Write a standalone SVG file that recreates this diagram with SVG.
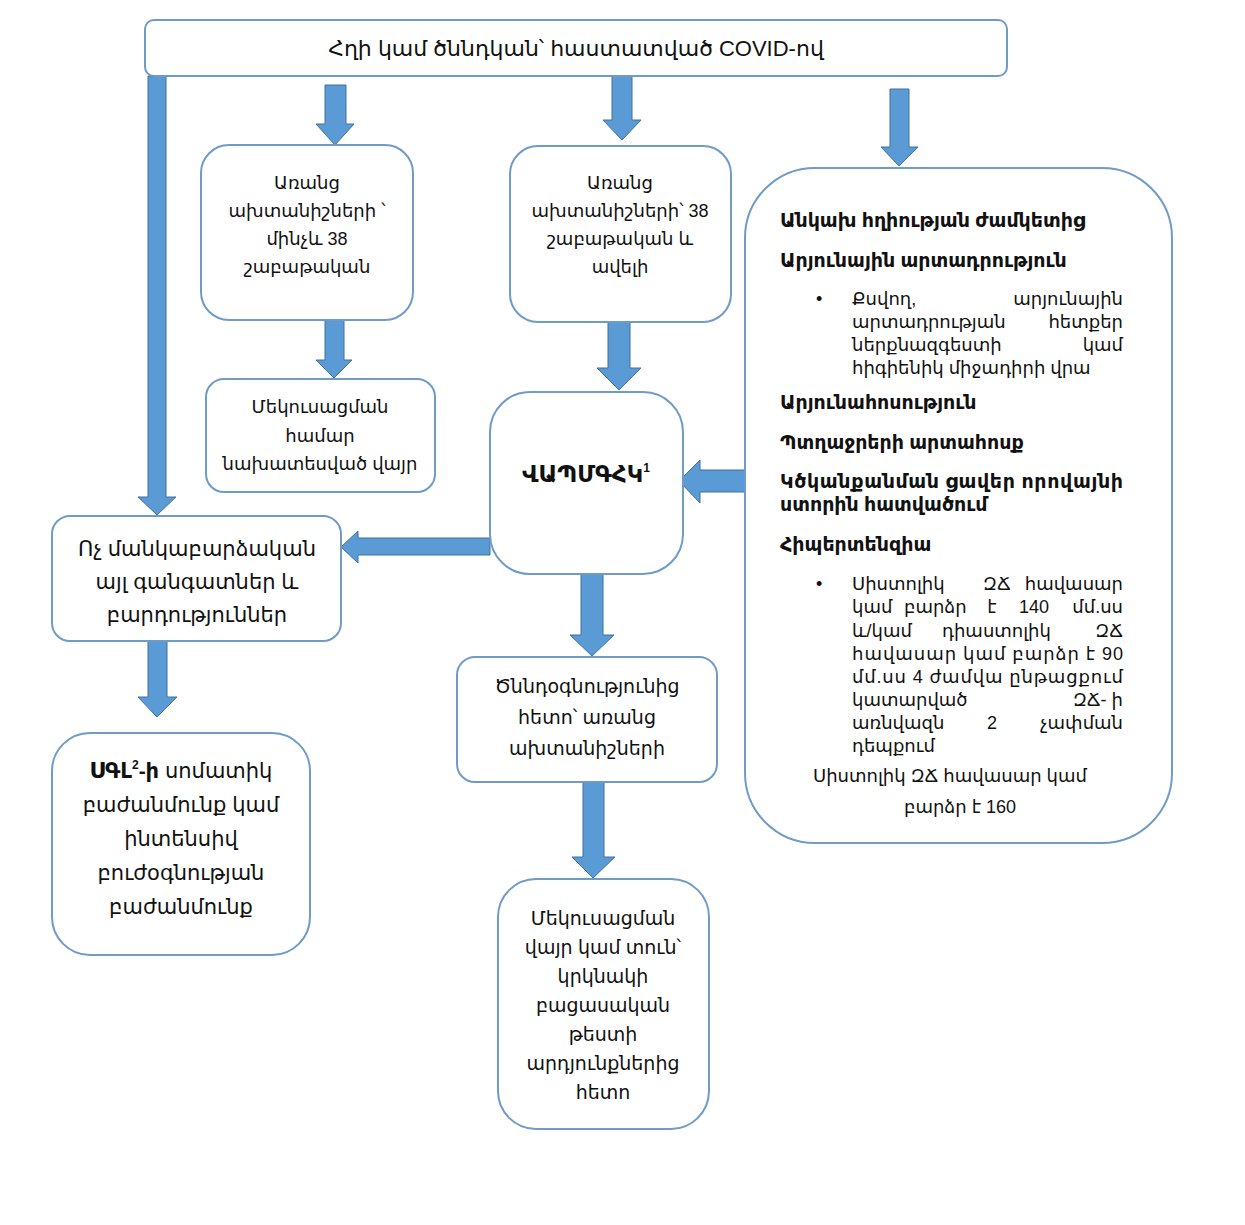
<svg xmlns="http://www.w3.org/2000/svg" width="1245" height="1225" viewBox="0 0 1245 1225">
<style>
.box{fill:#ffffff;stroke:#6f9bc8;stroke-width:2}
.arr{fill:#5b9bd5;stroke:#41719c;stroke-width:1}
text{font-family:"Liberation Sans","DejaVu Sans",sans-serif;fill:#111111}
.c{text-anchor:middle}
.t18{font-size:18px}
.t19{font-size:19px}
.t21{font-size:21px}
.b{font-weight:bold}
.r{font-size:18px}
.e{text-anchor:end}
</style>
<rect width="1245" height="1225" fill="#ffffff"/>
<g id="connectors">
<polygon class="arr" points="148,76 166,76 166,497 176,497 157,515 138,497 148,497"/>
<polygon class="arr" points="325,85 346,85 346,124 354,124 335,145 316,124 325,124"/>
<polygon class="arr" points="612,76 632,76 632,120 641,120 622,140 603,120 612,120"/>
<polygon class="arr" points="890,89 909,89 909,147 918,147 899,166 881,147 890,147"/>
<polygon class="arr" points="325,320 344,320 344,360 352,360 334,378 316,360 325,360"/>
<polygon class="arr" points="608,322 630,322 630,368 641,368 619,390 597,368 608,368"/>
<polygon class="arr" points="745,470 745,492 700,492 700,503 679,481 700,460 700,470"/>
<polygon class="arr" points="490,538 490,555 358,555 358,563 341,547 358,531 358,538"/>
<polygon class="arr" points="581,574 603,574 603,635 614,635 592,656 570,635 581,635"/>
<polygon class="arr" points="148,641 167,641 167,697 177,697 157,717 138,697 148,697"/>
<polygon class="arr" points="583,782 604,782 604,857 615,857 593,878 572,857 583,857"/>
</g>
<g id="n-top">
<rect class="box" x="145" y="20" width="862" height="56" rx="9"/>
<text class="c" x="576" y="56" font-size="22">Հղի կամ ծննդկան՝ հաստատված COVID-ով</text>
</g>
<g id="n-before38">
<rect class="box" x="201" y="145" width="212" height="175" rx="28"/>
<text class="c t18" x="307" y="189">Առանց</text>
<text class="c t18" x="307" y="217">ախտանիշների ՝</text>
<text class="c t18" x="307" y="245">մինչև 38</text>
<text class="c t18" x="307" y="273">շաբաթական</text>
</g>
<g id="n-after38">
<rect class="box" x="510" y="146" width="221" height="176" rx="28"/>
<text class="c t18" x="620" y="189">Առանց</text>
<text class="c t18" x="620" y="217">ախտանիշների՝ 38</text>
<text class="c t18" x="620" y="245">շաբաթական և</text>
<text class="c t18" x="620" y="273">ավելի</text>
</g>
<g id="n-isolation1">
<rect class="box" x="206" y="379" width="229" height="113" rx="18"/>
<text class="c t18" x="320" y="413">Մեկուսացման</text>
<text class="c t18" x="320" y="442">համար</text>
<text class="c t18" x="320" y="470">նախատեսված վայր</text>
</g>
<g id="n-symptoms">
<rect class="box" x="745" y="168" width="427" height="675" rx="70"/>
<text class="t19 b" x="780" y="227">Անկախ հղիության ժամկետից</text>
<text class="t19 b" x="780" y="267">Արյունային արտադրություն</text>
<text class="r" x="816" y="305">•</text>
<text class="r" x="852" y="305">Քսվող,</text>
<text class="r e" x="1123" y="305">արյունային</text>
<text class="r" x="852" y="328">արտադրության</text>
<text class="r e" x="1123" y="328">հետքեր</text>
<text class="r" x="852" y="351">ներքնազգեստի</text>
<text class="r e" x="1123" y="351">կամ</text>
<text class="r" x="852" y="374">հիգիենիկ միջադիրի վրա</text>
<text class="t19 b" x="780" y="409">Արյունահոսություն</text>
<text class="t19 b" x="780" y="449">Պտղաջրերի արտահոսք</text>
<text class="t19 b" x="780" y="488" textLength="343" lengthAdjust="spacing">Կծկանքանման ցավեր որովայնի</text>
<text class="t19 b" x="780" y="511">ստորին հատվածում</text>
<text class="t19 b" x="780" y="551">Հիպերտենզիա</text>
<text class="r" x="816" y="590">•</text>
<text class="r" x="852" y="590">Սիստոլիկ</text>
<text class="r" x="983" y="590">ԶՃ</text>
<text class="r e" x="1123" y="590">հավասար</text>
<text class="r" x="852" y="613">կամ</text>
<text class="r" x="904" y="613">բարձր</text>
<text class="r c" x="992" y="613">է</text>
<text class="r c" x="1034" y="613">140</text>
<text class="r e" x="1123" y="613">մմ.սս</text>
<text class="r" x="852" y="637">և/կամ</text>
<text class="r" x="942" y="637">դիաստոլիկ</text>
<text class="r e" x="1123" y="637">ԶՃ</text>
<text class="r" x="852" y="660" textLength="271" lengthAdjust="spacing">հավասար կամ բարձր է 90</text>
<text class="r" x="852" y="683" textLength="271" lengthAdjust="spacing">մմ.սս 4 ժամվա ընթացքում</text>
<text class="r" x="852" y="706">կատարված</text>
<text class="r e" x="1123" y="706">ԶՃ- ի</text>
<text class="r" x="852" y="729">առնվազն</text>
<text class="r c" x="992" y="729">2</text>
<text class="r e" x="1123" y="729">չափման</text>
<text class="r" x="852" y="752">դեպքում</text>
<text class="r" x="813" y="782">Սիստոլիկ ԶՃ հավասար կամ</text>
<text class="r c" x="960" y="813">բարձր է 160</text>
</g>
<g id="n-vapmghk">
<rect class="box" x="490" y="392" width="193" height="182" rx="40"/>
<text class="c b" font-size="23" x="586" y="482">ՎԱՊՄԳՀԿ<tspan font-size="12" dy="-10">1</tspan></text>
</g>
<g id="n-other">
<rect class="box" x="52" y="516" width="289" height="125" rx="18"/>
<text class="c t21" x="197" y="556">Ոչ մանկաբարձական</text>
<text class="c t21" x="197" y="589">այլ գանգատներ և</text>
<text class="c t21" x="197" y="622">բարդություններ</text>
</g>
<g id="n-somatic">
<rect class="box" x="52" y="733" width="258" height="222" rx="38"/>
<text class="c t21" x="181" y="778"><tspan class="b">ՍԳԼ</tspan><tspan class="b" font-size="12" dy="-9">2</tspan><tspan class="b" dy="9">-ի</tspan> սոմատիկ</text>
<text class="c t21" x="181" y="812">բաժանմունք կամ</text>
<text class="c t21" x="181" y="846">ինտենսիվ</text>
<text class="c t21" x="181" y="880">բուժօգնության</text>
<text class="c t21" x="181" y="914">բաժանմունք</text>
</g>
<g id="n-postpartum">
<rect class="box" x="457" y="657" width="260" height="125" rx="18"/>
<text class="c t19" x="587" y="693">Ծննդօգնությունից</text>
<text class="c t19" x="587" y="724">հետո՝ առանց</text>
<text class="c t19" x="587" y="755">ախտանիշների</text>
</g>
<g id="n-isolation2">
<rect class="box" x="498" y="879" width="211" height="250" rx="38"/>
<text class="c t19" x="603" y="925">Մեկուսացման</text>
<text class="c t19" x="603" y="954">վայր կամ տուն՝</text>
<text class="c t19" x="603" y="983">կրկնակի</text>
<text class="c t19" x="603" y="1012">բացասական</text>
<text class="c t19" x="603" y="1041">թեստի</text>
<text class="c t19" x="603" y="1070">արդյունքներից</text>
<text class="c t19" x="603" y="1099">հետո</text>
</g>
</svg>
